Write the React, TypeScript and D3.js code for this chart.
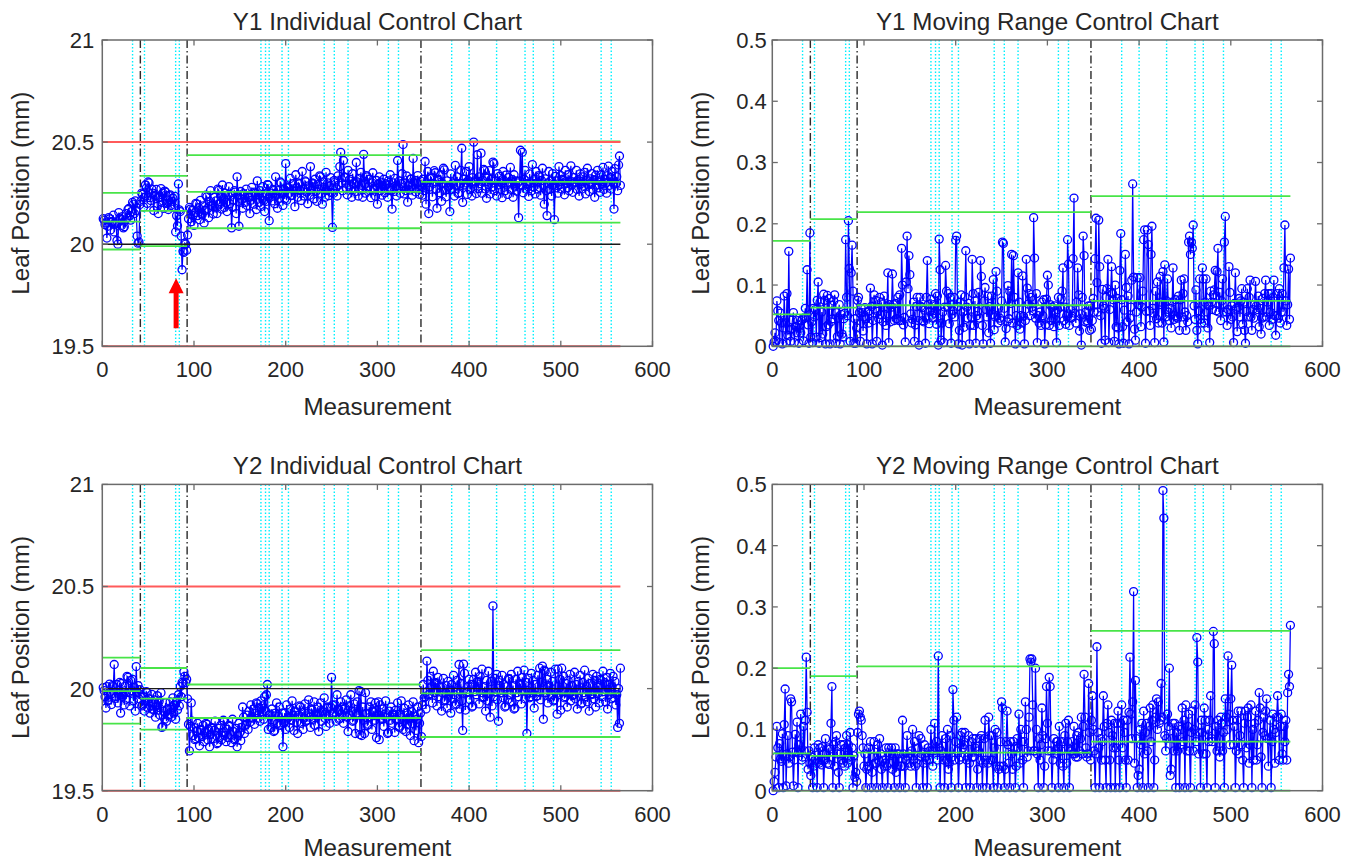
import React from "react";
import * as d3 from "d3";

// leaf position, deviation from the 20 mm nominal in micrometres, one value per measurement (1..565)
const y1Um = [
  125, 118, 96, 104, 30, 88, 130, 124, 70, 108, // 1-10
  112, 142, 60, 98, 104, 18, 0, 155, 128, 120,
  92, 135, 80, 86, 118, 150, 128, 170, 175, 140,
  118, 160, 205, 196, 150, 212, 165, 40, 5, 10,
  195, 210, 250, 244, 182, 230, 290, 275, 200, 305, // 41-50
  300, 228, 214, 270, 250, 165, 240, 236, 268, 185,
  150, 228, 232, 272, 205, 250, 176, 260, 255, 200,
  216, 170, 238, 242, 190, 210, 225, 180, 234, 60,
  140, 90, 295, 168, 160, 40, -125, -35, -40, 5,
  0, -30, 45, 125, 180, 172, 110, 165, 140, 92, // 91-100
  155, 200, 196, 140, 178, 120, 215, 150, 146, 188,
  104, 165, 240, 232, 175, 130, 210, 262, 190, 188,
  148, 230, 178, 212, 150, 270, 264, 196, 236, 172,
  290, 222, 180, 250, 205, 160, 240, 282, 198, 240,
  80, 180, 215, 262, 255, 150, 330, 236, 88, 205, // 141-150
  258, 220, 176, 248, 240, 205, 270, 190, 232, 230,
  150, 215, 278, 236, 196, 255, 250, 170, 310, 242,
  205, 262, 185, 236, 282, 214, 160, 246, 210, 292,
  290, 115, 240, 250, 212, 268, 262, 198, 330, 240,
  176, 262, 225, 305, 300, 248, 190, 270, 222, 395, // 191-200
  215, 280, 276, 250, 322, 238, 240, 296, 265, 184,
  340, 276, 230, 300, 296, 262, 214, 356, 270, 236,
  310, 305, 255, 198, 286, 240, 380, 266, 300, 296,
  222, 318, 258, 210, 292, 270, 335, 330, 248, 196,
  305, 278, 230, 352, 262, 300, 238, 284, 326, 252, // 241-250
  82, 250, 312, 305, 276, 236, 335, 290, 380, 450,
  300, 262, 410, 330, 326, 276, 242, 362, 290, 318,
  268, 230, 345, 296, 300, 258, 400, 305, 236, 322,
  272, 352, 288, 230, 440, 296, 250, 336, 330, 280,
  318, 262, 228, 300, 350, 274, 270, 235, 312, 196, // 291-300
  296, 330, 262, 304, 240, 286, 318, 252, 296, 290,
  230, 310, 276, 340, 262, 172, 300, 258, 322, 286,
  236, 410, 276, 310, 250, 296, 345, 488, 246, 300,
  262, 334, 206, 290, 265, 318, 320, 240, 420, 272,
  312, 256, 298, 336, 270, 244, 310, 282, 240, 318, // 341-350
  262, 405, 196, 300, 356, 150, 280, 330, 325, 232,
  298, 360, 350, 270, 176, 318, 312, 252, 340, 210,
  296, 372, 364, 264, 232, 310, 280, 284, 160, 344,
  268, 300, 295, 236, 386, 290, 330, 248, 252, 298,
  362, 470, 205, 318, 290, 300, 356, 244, 312, 380, // 391-400
  268, 300, 236, 326, 500, 310, 305, 248, 438, 272,
  330, 296, 446, 250, 312, 366, 360, 270, 225, 330,
  292, 360, 246, 318, 280, 402, 395, 262, 310, 236,
  346, 290, 332, 270, 300, 228, 356, 312, 262, 338,
  290, 244, 326, 300, 376, 268, 316, 230, 340, 284, // 441-450
  310, 260, 300, 130, 310, 460, 290, 450, 252, 318,
  362, 270, 296, 292, 234, 344, 300, 262, 390, 280,
  318, 246, 356, 300, 270, 336, 330, 240, 312, 372,
  288, 196, 320, 262, 140, 300, 356, 268, 310, 236,
  346, 290, 120, 332, 276, 310, 250, 380, 292, 336, // 491-500
  270, 318, 312, 242, 362, 300, 276, 340, 262, 310,
  384, 290, 254, 326, 300, 305, 362, 268, 316, 236,
  344, 296, 270, 330, 284, 352, 246, 312, 372, 290,
  258, 320, 300, 346, 268, 316, 230, 338, 290, 362,
  276, 310, 254, 340, 296, 376, 268, 318, 300, 250, // 541-550
  336, 382, 288, 326, 270, 356, 300, 172, 370, 296,
  330, 262, 388, 432, 288,
];

const y2Um = [
  5, -10, -40, -95, 10, -60, -55, 22, -30, -78, // 1-10
  15, 10, 118, -48, -40, 20, -70, -25, 30, -120,
  25, -38, -30, -80, 12, -52, 60, 55, -20, -85,
  40, -10, 45, -60, 5, -110, 108, -20, 15, -50,
  -5, -30, -85, -80, -40, -110, -60, -15, -20, -95, // 41-50
  -50, -120, -70, -28, -100, -105, -55, -140, -80, -35,
  -105, -62, -130, -20, -190, -185, -110, -150, -70, -160,
  -100, -130, -125, -65, -140, -90, -45, -120, -80, -150,
  -60, -105, -30, -85, 10, -40, 30, 25, 82, 60,
  30, 45, -50, -175, -305, -185, -70, -160, -230, -190, // 91-100
  -250, -245, -210, -170, -240, -280, -200, -205, -235, -180,
  -260, -215, -170, -175, -250, -200, -285, -225, -190, -195,
  -245, -205, -160, -230, -270, -265, -195, -240, -180, -250,
  -215, -155, -160, -230, -260, -200, -240, -180, -185, -225,
  -265, -150, -210, -250, -245, -195, -285, -230, -170, -215, // 141-150
  -255, -190, -90, -140, -220, -180, -175, -130, -200, -110,
  -165, -80, -140, -145, -100, -175, -120, -70, -75, -145,
  -95, -160, -60, -125, -85, -150, -40, -110, -30, 20,
  -200, -130, -125, -190, -100, -160, -210, -205, -120, -70,
  -170, -135, -90, -180, -175, -120, -285, -170, -120, -200, // 191-200
  -80, -145, -140, -190, -100, -155, -60, -130, -205, -110,
  -115, -165, -220, -130, -85, -90, -170, -115, -200, -145,
  -75, -160, -155, -120, -55, -140, -190, -100, -105, -150,
  -65, -180, -130, -135, -90, -210, -120, -70, -160, -110,
  -115, -45, -145, -185, -90, -95, -130, -170, -90, 55, // 241-250
  -80, -120, -115, -80, -160, -30, -105, -150, -145, -65,
  -125, -90, -170, -100, -95, -55, -140, -210, -85, -130,
  -30, -110, -160, -155, -75, -220, -120, -65, -130, -10,
  -225, -15, -230, -90, -155, -220, -20, -120, -180, -175,
  -90, -140, -65, -200, -110, -115, -155, -70, -240, -130, // 291-300
  -65, -250, -80, -145, -150, -100, -185, -125, -60, -140,
  -220, -215, -110, -155, -90, -170, -130, -125, -215, -105,
  -150, -70, -185, -190, -125, -60, -140, -200, -95, -155,
  -210, -120, -175, -80, -145, -230, -110, -170, -65, -255,
  -135, -205, -150, -90, -265, -170, -120, -235, -80, 20, // 341-350
  -45, -40, -100, 135, 40, -30, -25, 60, 10, -70,
  85, -20, 30, 25, -85, 55, -40, 10, 5, -110,
  -20, 50, -60, -55, 15, -95, 35, -15, -10, -120,
  20, -50, 65, -30, -80, -75, 40, -10, 118, -100,
  25, -60, -205, 120, 75, -105, -20, -15, 10, 45, // 391-400
  -55, 20, -90, -85, 45, -15, 80, -30, 35, 30,
  -75, 60, -20, 95, -45, -40, 10, -110, 40, -60,
  85, -25, -140, 35, -85, 405, -40, 50, -15, 70,
  -55, -160, 40, 15, -20, 65, -45, 20, -90, -85,
  10, -55, 50, 45, -30, 70, -65, 15, -100, -95, // 441-450
  45, -20, 85, -40, 25, 20, -75, 55, -10, 90,
  -50, 30, -220, -10, 50, -45, -40, 75, -20, 40,
  -95, 20, -40, -35, 65, -15, 100, -55, 30, 110,
  -150, 90, 85, -20, 45, -70, 15, -40, 80, -30,
  35, -60, -55, 95, -25, -125, 95, -30, 45, -105, // 491-500
  100, -15, 60, -45, -40, 25, -90, 40, -20, 70,
  -60, 15, -35, -30, 80, -50, 20, -100, 35, -10,
  65, -75, -70, 30, -20, 90, -40, 10, -65, 50,
  -110, 25, -30, -25, 70, -50, 40, -90, 60, -25,
  15, -70, 45, 40, -40, 85, -15, 30, -65, 55, // 541-550
  -100, 20, -30, 75, -50, 10, 60, -45, 35, -80,
  -30, -190, 0, -170, 100,
];

const xTicks = [0, 100, 200, 300, 400, 500, 600];
const indTicks = [19.5, 20, 20.5, 21];
const mrTicks = [0, 0.1, 0.2, 0.3, 0.4, 0.5];

// process changes (dash-dot) and events (cyan dotted), in measurement number
const segmentBreaks = [41.5, 92.5, 347.5];
const eventLines = [33, 46, 80, 84, 173, 178, 182, 196, 203, 242, 253, 268, 312, 323, 381, 400, 430, 461, 470, 492, 544, 555];
const segmentEdges = [0, 41.5, 92.5, 347.5, 565];

const nominal = 20;
const tolerance = [19.5, 20.5];

// control limits per segment
const y1Ucl = [20.251, 20.335, 20.436, 20.503];
const y1Cl = [20.111, 20.163, 20.256, 20.305];
const y1Lcl = [19.974, 19.991, 20.078, 20.106];
const y2Ucl = [20.152, 20.101, 20.02, 20.188];
const y2Cl = [19.988, 19.951, 19.856, 19.977];
const y2Lcl = [19.828, 19.799, 19.689, 19.763];
const mr1Ucl = [0.172, 0.2075, 0.219, 0.245];
const mr1Cl = [0.052, 0.063, 0.067, 0.074];
const mr2Ucl = [0.2, 0.187, 0.203, 0.261];
const mr2Cl = [0.061, 0.057, 0.062, 0.08];
const mrLcl = [0, 0, 0, 0];

// red arrow pointing at the dip in Y1
const arrowAt = { x: 80.5, tip: 19.833, tail: 19.588 };

const toMm = (um: number[]) => um.map((v) => nominal + v / 1000);
const movingRange = (um: number[]) => um.map((v, i) => (i === 0 ? 0 : Math.abs(v - um[i - 1]) / 1000));

const FONT = "'Liberation Sans', Arial, Helvetica, sans-serif";
const PLOT_W = 550.2;
const PLOT_H = 306.3;
const FRAME = "#6b6b6b";
const TEXT = "#262626";
const BLUE = "#0000ff";
const GREEN = "#48e448";
const RED = "#ff5a5a";

interface PanelProps {
  left: number;
  top: number;
  title: string;
  yDomain: [number, number];
  yTicks: number[];
  values: number[];
  ucl: number[];
  cl: number[];
  lcl: number[];
  individual: boolean;
  labelGap: number;
  tickGap: number;
  xlabelGap: number;
  arrow?: boolean;
}

function Panel({ left, top, title, yDomain, yTicks, values, ucl, cl, lcl, individual, labelGap, tickGap, xlabelGap, arrow }: PanelProps) {
  const x = d3.scaleLinear().domain([0, 600]).range([left, left + PLOT_W]);
  const y = d3.scaleLinear().domain(yDomain).range([top + PLOT_H, top]);
  const bottom = top + PLOT_H;
  const pts: [number, number][] = values.map((v, i) => [i + 1, v]);
  const path = d3
    .line<[number, number]>()
    .x((d) => x(d[0]))
    .y((d) => y(d[1]))(pts);

  const segLines = (levels: number[], key: string) =>
    levels.map((lv, i) => (
      <line
        key={key + i}
        x1={x(segmentEdges[i])}
        x2={x(segmentEdges[i + 1])}
        y1={y(lv)}
        y2={y(lv)}
        stroke={GREEN}
        strokeWidth={1.8}
      />
    ));

  const tipX = x(arrowAt.x);
  const tipY = y(arrowAt.tip);
  const tailY = y(arrowAt.tail);

  return (
    <g fontFamily={FONT}>
      {eventLines.map((m) => (
        <line key={"e" + m} x1={x(m)} x2={x(m)} y1={top} y2={bottom} stroke="#00f0ff" strokeWidth={1.4} strokeDasharray="1.5,2" />
      ))}
      {segmentBreaks.map((m) => (
        <line key={"b" + m} x1={x(m)} x2={x(m)} y1={top} y2={bottom} stroke="#2a2a2a" strokeWidth={1.4} strokeDasharray="8,3,1.5,3" />
      ))}

      <path d={path ?? ""} fill="none" stroke={BLUE} strokeWidth={1.25} />
      {pts.map((d, i) => (
        <circle key={i} cx={x(d[0])} cy={y(d[1])} r={4} fill="none" stroke={BLUE} strokeWidth={1.3} />
      ))}

      {segLines(ucl, "u")}
      {segLines(cl, "c")}
      {segLines(lcl, "l")}
      {individual && (
        <line x1={x(0)} x2={x(565)} y1={y(nominal)} y2={y(nominal)} stroke="#1a1a1a" strokeWidth={1.4} />
      )}
      {individual &&
        tolerance.map((t) => (
          <line key={"t" + t} x1={x(0)} x2={x(565)} y1={y(t)} y2={y(t)} stroke={RED} strokeWidth={2} />
        ))}

      <rect x={left} y={top} width={PLOT_W} height={PLOT_H} fill="none" stroke={FRAME} strokeWidth={1.5} />
      {xTicks.map((t) => (
        <g key={"xt" + t}>
          <line x1={x(t)} x2={x(t)} y1={bottom} y2={bottom - 5.5} stroke={FRAME} strokeWidth={1.3} />
          <line x1={x(t)} x2={x(t)} y1={top} y2={top + 5.5} stroke={FRAME} strokeWidth={1.3} />
          <text x={x(t)} y={bottom + 31} textAnchor="middle" fontSize={22} fill={TEXT}>
            {t}
          </text>
        </g>
      ))}
      {yTicks.map((t) => (
        <g key={"yt" + t}>
          <line x1={left} x2={left + 5.5} y1={y(t)} y2={y(t)} stroke={FRAME} strokeWidth={1.3} />
          <line x1={left + PLOT_W} x2={left + PLOT_W - 5.5} y1={y(t)} y2={y(t)} stroke={FRAME} strokeWidth={1.3} />
          <text x={left - tickGap} y={y(t)} dy="0.36em" textAnchor="end" fontSize={22} fill={TEXT}>
            {String(t)}
          </text>
        </g>
      ))}

      <text x={x(300)} y={top - 10} textAnchor="middle" fontSize={24.2} fill={TEXT}>
        {title}
      </text>
      <text x={x(300)} y={bottom + xlabelGap} textAnchor="middle" fontSize={24.2} fill={TEXT}>
        Measurement
      </text>
      <text
        transform={`translate(${left - labelGap},${top + PLOT_H / 2}) rotate(-90)`}
        textAnchor="middle"
        fontSize={24.2}
        fill={TEXT}
      >
        Leaf Position (mm)
      </text>

      {arrow && (
        <path
          d={`M${tipX},${tipY} L${tipX + 7.5},${tipY + 15} L${tipX + 2.5},${tipY + 15} L${tipX + 2.5},${tailY} L${tipX - 2.5},${tailY} L${tipX - 2.5},${tipY + 15} L${tipX - 7.5},${tipY + 15} Z`}
          fill="#ff0000"
        />
      )}
    </g>
  );
}

export default function App() {
  const y1 = toMm(y1Um);
  const y2 = toMm(y2Um);
  const mr1 = movingRange(y1Um);
  const mr2 = movingRange(y2Um);

  return (
    <svg width={1354} height={862} style={{ position: "absolute", left: 0, top: 0, background: "#fff" }}>
      <Panel left={102.3} top={40} title="Y1 Individual Control Chart" yDomain={[19.5, 21]} yTicks={indTicks}
        values={y1} ucl={y1Ucl} cl={y1Cl} lcl={y1Lcl} individual labelGap={73.8} tickGap={8} xlabelGap={68.5} arrow />
      <Panel left={772.3} top={40} title="Y1 Moving Range Control Chart" yDomain={[0, 0.5]} yTicks={mrTicks}
        values={mr1} ucl={mr1Ucl} cl={mr1Cl} lcl={mrLcl} individual={false} labelGap={63.8} tickGap={5.5} xlabelGap={68.5} />
      <Panel left={102.3} top={484.4} title="Y2 Individual Control Chart" yDomain={[19.5, 21]} yTicks={indTicks}
        values={y2} ucl={y2Ucl} cl={y2Cl} lcl={y2Lcl} individual labelGap={73.8} tickGap={8} xlabelGap={65.5} />
      <Panel left={772.3} top={484.4} title="Y2 Moving Range Control Chart" yDomain={[0, 0.5]} yTicks={mrTicks}
        values={mr2} ucl={mr2Ucl} cl={mr2Cl} lcl={mrLcl} individual={false} labelGap={63.8} tickGap={5.5} xlabelGap={65.5} />
    </svg>
  );
}
